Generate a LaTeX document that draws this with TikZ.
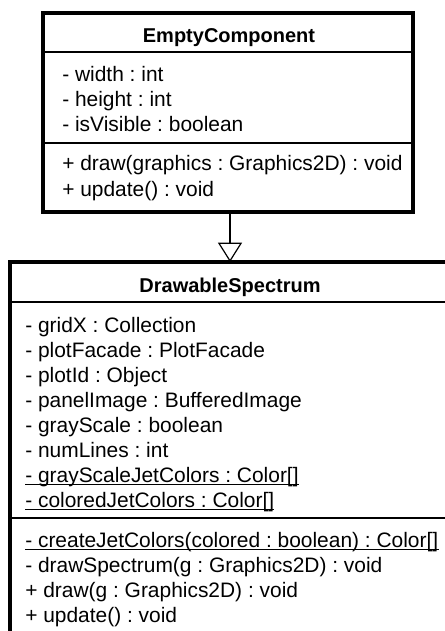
\documentclass[tikz,border=0pt]{standalone}
\usepackage{fontspec}
\setmainfont{Liberation Sans}
\usetikzlibrary{arrows.meta,fit}
\begin{document}
\frenchspacing
\begin{tikzpicture}[x=0.75pt,y=-0.75pt,
  classbox/.style={draw=black,line width=2.3pt,inner sep=0pt,outer sep=0pt},
  sepline/.style={draw=black,line width=1pt},
  title/.style={inner sep=0pt,anchor=base,font=\fontsize{15}{18}\selectfont\bfseries},
  member/.style={inner sep=0pt,anchor=base west,font=\fontsize{15.7}{18}\selectfont},
  uline/.style={draw=black,line width=0.9pt},
  inherit/.style={draw=black,line width=1pt,-{Triangle[open,width=18pt,length=14.5pt,line width=0.9pt]}}]
\useasboundingbox (0,0) rectangle (445,631);
\clip (0,0) rectangle (445,631);

% EmptyComponent class
\node[classbox,fit={(43,13) (413,212)}] (ec) {};
\draw[sepline] (ec.west |- 0,52) -- (ec.east |- 0,52);
\draw[sepline] (ec.west |- 0,143) -- (ec.east |- 0,143);
\node[title] (ectitle) at (229,43) {EmptyComponent};
\node[member] (eca1) at (62,82) {- width : int};
\node[member] (eca2) at (62,107) {- height : int};
\node[member] (eca3) at (62,132) {- isVisible : boolean};
\node[member] (ecm1) at (62,171) {+ draw(graphics : Graphics2D) : void};
\node[member] (ecm2) at (62,196) {+ update() : void};

% DrawableSpectrum class (runs past the page edges)
\node[classbox,fit={(10,262) (480,680)}] (ds) {};
\draw[sepline] (ds.west |- 0,302) -- (ds.east |- 0,302);
\draw[sepline] (ds.west |- 0,518) -- (ds.east |- 0,518);
\node[title] (dstitle) at (230,292) {DrawableSpectrum};
\node[member] (dsa1) at (25,332) {- gridX : Collection};
\node[member] (dsa2) at (25,357) {- plotFacade : PlotFacade};
\node[member] (dsa3) at (25,382) {- plotId : Object};
\node[member] (dsa4) at (25,407) {- panelImage : BufferedImage};
\node[member] (dsa5) at (25,432) {- grayScale : boolean};
\node[member] (dsa6) at (25,457) {- numLines : int};
\node[member] (dsa7) at (25,482) {- grayScaleJetColors : Color[]};
\node[member] (dsa8) at (25,507) {- coloredJetColors : Color[]};
\node[member] (dsm1) at (25,547) {- createJetColors(colored : boolean) : Color[]};
\node[member] (dsm2) at (25,572) {- drawSpectrum(g : Graphics2D) : void};
\node[member] (dsm3) at (25,597) {+ draw(g : Graphics2D) : void};
\node[member] (dsm4) at (25,622) {+ update() : void};

% static members are underlined
\foreach \n in {dsa7,dsa8,dsm1}
  \draw[uline] ([yshift=-1.6pt]\n.base west) -- ([yshift=-1.6pt]\n.base east);

% generalization
\draw[inherit] (ec.south -| 230,0) -- (ds.north -| 230,0);
\end{tikzpicture}
\end{document}
